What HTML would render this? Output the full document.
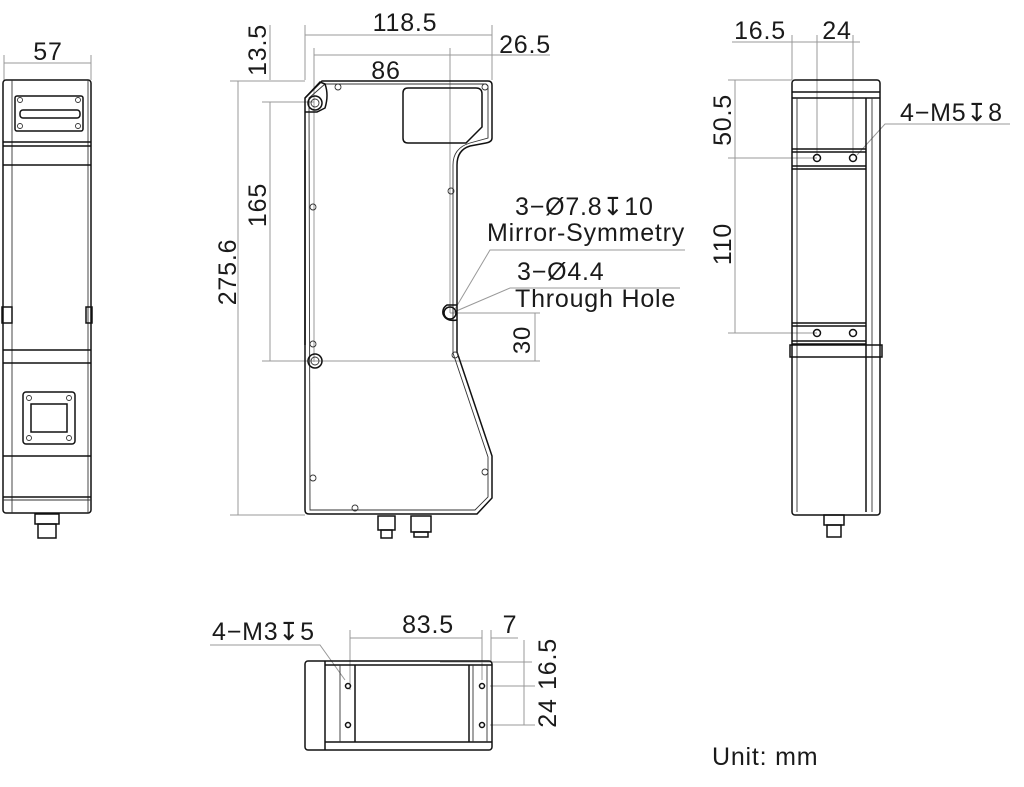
<!DOCTYPE html>
<html><head><meta charset="utf-8"><style>
html,body{margin:0;padding:0;background:#fff;}
svg{display:block;}
text{font-family:"Liberation Sans","DejaVu Sans",sans-serif;fill:#1a1a1a;letter-spacing:0.8px;}
.o{fill:none;stroke:#111;stroke-width:1.5;}
.t{fill:none;stroke:#333;stroke-width:0.9;}
.d{fill:none;stroke:#999;stroke-width:1;}
</style></head><body>
<svg width="1024" height="787" viewBox="0 0 1024 787" xmlns="http://www.w3.org/2000/svg">
<!-- LEFT VIEW -->
<g>
<line class="d" x1="4" y1="55" x2="4" y2="80"/><line class="d" x1="91" y1="55" x2="91" y2="80"/>
<line class="d" x1="4" y1="63" x2="91" y2="63"/>
<text x="48" y="60" font-size="25" text-anchor="middle">57</text>
<rect class="o" x="3" y="80" width="88" height="433" rx="3"/>
<line class="t" x1="12" y1="80" x2="12" y2="513"/>
<line class="t" x1="88" y1="80" x2="88" y2="513"/>
<line class="o" x1="3" y1="142" x2="91" y2="142"/><line class="o" x1="3" y1="146" x2="91" y2="146"/>
<line class="o" x1="3" y1="165" x2="91" y2="165"/>
<rect class="o" x="15" y="96" width="68" height="35" rx="2"/>
<rect class="o" x="20" y="110" width="60" height="8" rx="3"/>
<circle class="t" cx="20" cy="100" r="2.5"/><circle class="t" cx="78" cy="100" r="2.5"/><circle class="t" cx="20" cy="126" r="2.5"/><circle class="t" cx="78" cy="126" r="2.5"/>
<rect class="o" x="2" y="307" width="10" height="16"/><rect class="o" x="86" y="307" width="6" height="16"/>
<line class="o" x1="3" y1="350" x2="91" y2="350"/><line class="o" x1="3" y1="363" x2="91" y2="363"/>
<rect class="o" x="23" y="392" width="52" height="52" rx="3"/>
<rect class="o" x="31" y="404" width="36" height="28"/>
<circle class="t" cx="29" cy="398" r="2.5"/><circle class="t" cx="69" cy="398" r="2.5"/><circle class="t" cx="29" cy="438" r="2.5"/><circle class="t" cx="69" cy="438" r="2.5"/>
<line class="o" x1="3" y1="456" x2="91" y2="456"/>
<line class="o" x1="3" y1="497" x2="91" y2="497"/><line class="t" x1="3" y1="500" x2="91" y2="500"/>
<rect class="o" x="35" y="514" width="24" height="10"/><rect class="o" x="38" y="524" width="18" height="14"/>
</g>

<!-- FRONT VIEW -->
<g>
<line class="d" x1="305" y1="25" x2="305" y2="80"/><line class="d" x1="492" y1="25" x2="492" y2="80"/>
<line class="d" x1="305" y1="35" x2="492" y2="35"/>
<text x="405" y="31" font-size="25" text-anchor="middle">118.5</text>
<line class="d" x1="314" y1="48" x2="314" y2="362"/><line class="d" x1="450" y1="48" x2="450" y2="313"/>
<line class="d" x1="314" y1="55" x2="550" y2="55"/>
<text x="386" y="79" font-size="25" text-anchor="middle">86</text>
<text x="525" y="53" font-size="25" text-anchor="middle">26.5</text>
<line class="d" x1="270" y1="25" x2="270" y2="80"/>
<line class="d" x1="230" y1="81" x2="305" y2="81"/>
<text transform="translate(266,50) rotate(-90)" font-size="25" text-anchor="middle">13.5</text>
<line class="d" x1="262" y1="102" x2="314" y2="102"/>
<line class="d" x1="270" y1="102" x2="270" y2="361"/>
<text transform="translate(266,205) rotate(-90)" font-size="25" text-anchor="middle">165</text>
<line class="d" x1="238" y1="81" x2="238" y2="515"/>
<line class="d" x1="230" y1="515" x2="305" y2="515"/>
<text transform="translate(236,272) rotate(-90)" font-size="25" text-anchor="middle">275.6</text>
<line class="d" x1="262" y1="361" x2="540" y2="361"/>
<line class="d" x1="450" y1="313" x2="540" y2="313"/>
<line class="d" x1="535" y1="313" x2="535" y2="361"/>
<text transform="translate(530,340) rotate(-90)" font-size="24" text-anchor="middle">30</text>
<text x="515" y="215" font-size="25">3−Ø7.8↧10</text>
<text x="487" y="241" font-size="25">Mirror-Symmetry</text>
<polyline class="d" points="455,309 490,250 685,250"/>
<text x="517" y="280" font-size="25">3−Ø4.4</text>
<text x="515" y="307" font-size="25">Through Hole</text>
<polyline class="d" points="454,312 510,288 680,288"/>
<path class="o" d="M322,81 L488,81 Q492,81 492,85 L492,138 Q492,142 486,143 L470,146 Q457,150 457,165 L457,352 L492,456 L492,498 L477,514 L309,514 Q305,514 305,510 L305,98 Z"/>
<path class="t" d="M325,84 L486,84 L488,86 L488,138 L470,143 Q453,148 453,165 L453,353 L488,457 L488,497 L475,510 L310,510 L309,98 Z"/>
<path class="o" d="M305,98 L320,82 L325,84 Q329,95 325,108 L317,112 L305,112"/>
<path class="o" d="M408,88 L476,88 Q482,88 482,94 L482,127 L466,143 L408,143 Q403,143 403,138 L403,93 Q403,88 408,88 Z"/>
<circle class="o" cx="315" cy="103" r="7"/><circle class="t" cx="315" cy="103" r="4"/>
<circle class="o" cx="315" cy="361" r="7"/><circle class="t" cx="315" cy="361" r="4"/>
<path class="o" d="M457,305 L447,305 Q442,308 443,314 Q446,322 457,320"/>
<circle class="o" cx="450" cy="313" r="6"/>
<g class="t">
<circle cx="338" cy="87" r="3"/><circle cx="485" cy="87" r="3"/><circle cx="313" cy="207" r="3"/><circle cx="451" cy="191" r="3"/>
<circle cx="313" cy="344" r="3"/><circle cx="455" cy="355" r="3"/><circle cx="313" cy="478" r="3"/><circle cx="355" cy="508" r="3"/><circle cx="485" cy="472" r="3"/>
</g>
<line class="o" x1="305" y1="150" x2="305" y2="345"/>
<rect class="o" x="378" y="516" width="17" height="14"/><rect class="o" x="381" y="530" width="11" height="8"/>
<rect class="o" x="411" y="516" width="20" height="16"/><rect class="o" x="414" y="532" width="14" height="5"/>
</g>

<!-- RIGHT VIEW -->
<g>
<line class="d" x1="792" y1="35" x2="792" y2="80"/><line class="d" x1="817" y1="35" x2="817" y2="155"/><line class="d" x1="853" y1="35" x2="853" y2="155"/>
<line class="d" x1="732" y1="42" x2="860" y2="42"/>
<text x="760" y="39" font-size="25" text-anchor="middle">16.5</text>
<text x="837" y="39" font-size="25" text-anchor="middle">24</text>
<line class="d" x1="728" y1="80" x2="792" y2="80"/><line class="d" x1="728" y1="158" x2="817" y2="158"/><line class="d" x1="728" y1="333" x2="817" y2="333"/>
<line class="d" x1="735" y1="80" x2="735" y2="333"/>
<text transform="translate(731,120) rotate(-90)" font-size="25" text-anchor="middle">50.5</text>
<text transform="translate(731,244) rotate(-90)" font-size="25" text-anchor="middle">110</text>
<text x="900" y="121" font-size="25">4−M5↧8</text>
<polyline class="d" points="857,155 885,124 1010,124"/>
<rect class="o" x="792" y="80" width="88" height="435" rx="3"/>
<line class="o" x1="792" y1="92" x2="880" y2="92"/><line class="o" x1="792" y1="98" x2="880" y2="98"/>
<line class="t" x1="797" y1="98" x2="797" y2="512"/>
<line class="o" x1="866" y1="98" x2="866" y2="512"/><line class="t" x1="872" y1="98" x2="872" y2="512"/>
<line class="o" x1="792" y1="149" x2="866" y2="149"/><line class="o" x1="792" y1="152" x2="866" y2="152"/>
<line class="o" x1="792" y1="166" x2="866" y2="166"/><line class="o" x1="792" y1="169" x2="866" y2="169"/>
<line class="o" x1="792" y1="323" x2="866" y2="323"/><line class="o" x1="792" y1="326" x2="866" y2="326"/>
<line class="o" x1="792" y1="341" x2="866" y2="341"/><line class="o" x1="792" y1="344" x2="866" y2="344"/>
<rect class="o" x="790" y="345" width="92" height="12"/>
<circle class="o" cx="817" cy="158" r="3.5"/><circle class="o" cx="853" cy="158" r="3.5"/>
<circle class="o" cx="817" cy="333" r="3.5"/><circle class="o" cx="853" cy="333" r="3.5"/>
<rect class="o" x="824" y="515" width="20" height="10"/><rect class="o" x="827" y="525" width="14" height="12"/>
</g>

<!-- BOTTOM VIEW -->
<g>
<text x="212" y="640" font-size="25">4−M3↧5</text>
<polyline class="d" points="210,645 320,645 345,680"/>
<line class="d" x1="350" y1="630" x2="350" y2="690"/><line class="d" x1="482" y1="630" x2="482" y2="680"/><line class="d" x1="491" y1="630" x2="491" y2="662"/>
<line class="d" x1="350" y1="638" x2="482" y2="638"/><line class="d" x1="491" y1="638" x2="518" y2="638"/>
<text x="428" y="633" font-size="25" text-anchor="middle">83.5</text>
<text x="510" y="633" font-size="25" text-anchor="middle">7</text>
<line class="d" x1="440" y1="662" x2="532" y2="662"/><line class="d" x1="490" y1="686" x2="535" y2="686"/><line class="d" x1="490" y1="725" x2="535" y2="725"/>
<line class="d" x1="524" y1="640" x2="524" y2="725"/>
<text transform="translate(556,664) rotate(-90)" font-size="25" text-anchor="middle">16.5</text>
<text transform="translate(556,713) rotate(-90)" font-size="25" text-anchor="middle">24</text>
<rect class="o" x="305" y="661" width="187" height="89" rx="3"/>
<line class="o" x1="325" y1="661" x2="325" y2="750"/>
<line class="o" x1="325" y1="665" x2="492" y2="665"/>
<line class="o" x1="325" y1="742" x2="492" y2="742"/>
<line class="t" x1="340" y1="665" x2="340" y2="742"/><line class="o" x1="355" y1="665" x2="355" y2="742"/>
<line class="o" x1="469" y1="665" x2="469" y2="742"/><line class="t" x1="473" y1="665" x2="473" y2="742"/><line class="t" x1="487" y1="665" x2="487" y2="742"/>
<circle class="o" cx="348" cy="686" r="2.5"/><circle class="o" cx="348" cy="725" r="2.5"/>
<circle class="o" cx="482" cy="686" r="2.5"/><circle class="o" cx="482" cy="725" r="2.5"/>
</g>

<text x="712" y="765" font-size="25">Unit: mm</text>
</svg>
</body></html>
